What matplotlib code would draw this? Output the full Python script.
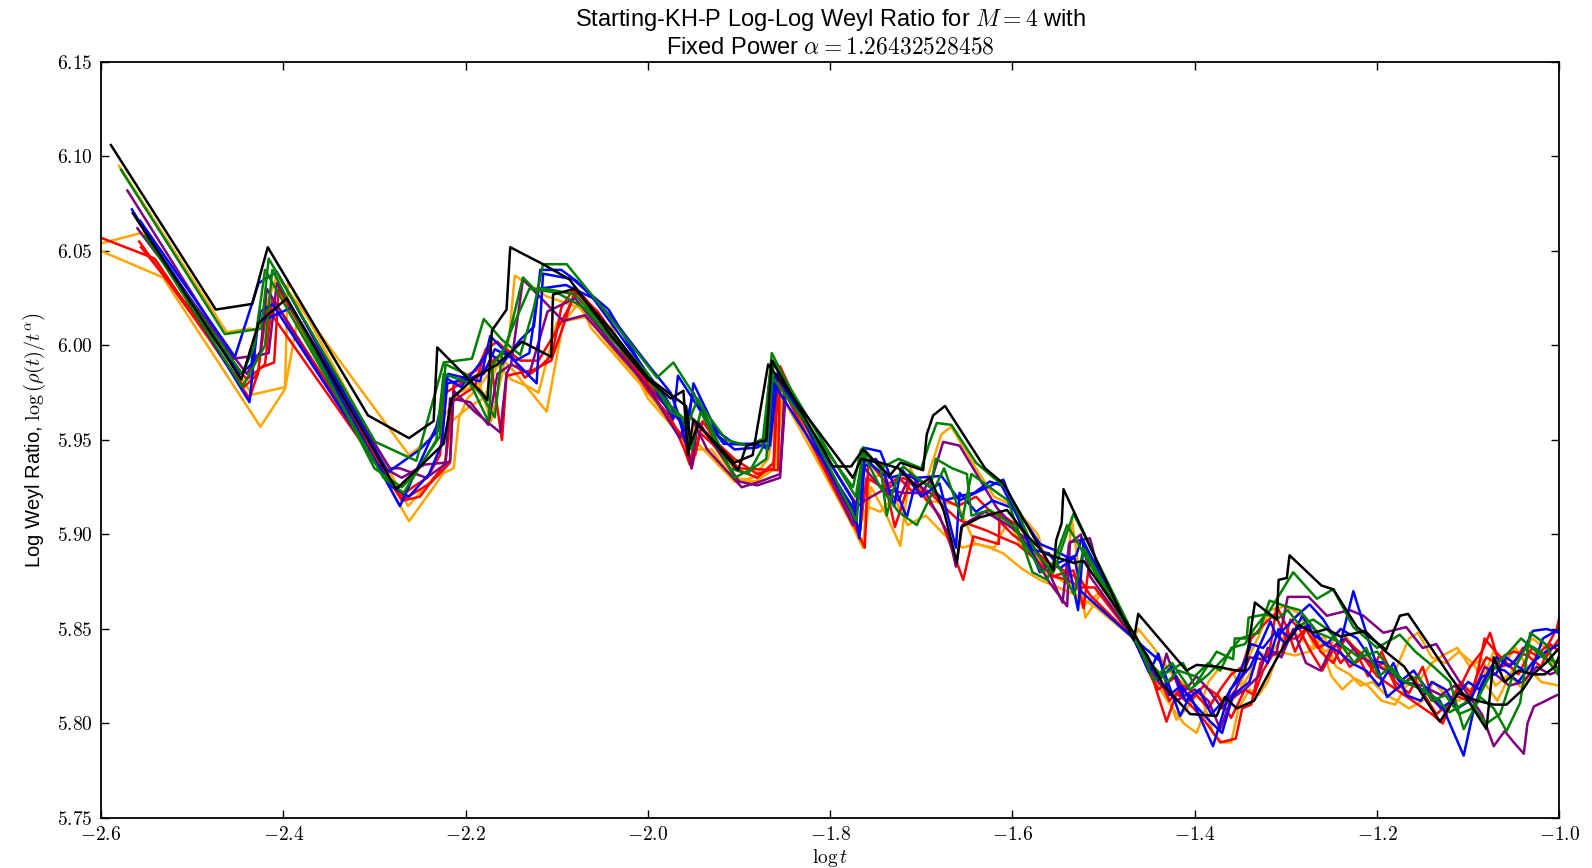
import matplotlib
matplotlib.use('Agg')
import matplotlib.pyplot as plt
from matplotlib.ticker import FuncFormatter

plt.rcParams['mathtext.fontset'] = 'cm'
plt.rcParams['font.family'] = ['Liberation Sans', 'DejaVu Sans']

# ---------------- data: (log t, log Weyl ratio) vertices ----------------
black1 = [(-2.589,6.106),(-2.474,6.019),(-2.434,6.022),(-2.417,6.052),(-2.307,5.963),(-2.262,5.951),(-2.235,5.960),(-2.231,5.999),(-2.182,5.975),(-2.176,5.971),(-2.171,6.008),(-2.155,6.019),(-2.151,6.052),(-2.115,6.043),(-2.086,6.035),(-2.040,6.005),(-2.000,5.982),(-1.975,5.972),(-1.961,5.976),(-1.956,5.942),(-1.950,5.961),(-1.901,5.934),(-1.892,5.947),(-1.870,5.950),(-1.864,5.992),(-1.797,5.936),(-1.777,5.936),(-1.764,5.945),(-1.735,5.931),(-1.723,5.938),(-1.698,5.934),(-1.694,5.953),(-1.687,5.963),(-1.674,5.968),(-1.630,5.935),(-1.610,5.927),(-1.590,5.910),(-1.570,5.893),(-1.555,5.881),(-1.552,5.897),(-1.546,5.906),(-1.544,5.924),(-1.467,5.844),(-1.462,5.858),(-1.409,5.828),(-1.398,5.831),(-1.375,5.830),(-1.354,5.828),(-1.345,5.828),(-1.334,5.864),(-1.310,5.855),(-1.308,5.876),(-1.299,5.877),(-1.296,5.889),(-1.261,5.873),(-1.248,5.871),(-1.222,5.851),(-1.190,5.839),(-1.175,5.857),(-1.166,5.858),(-1.142,5.841),(-1.120,5.825),(-1.100,5.812),(-1.080,5.797),(-1.072,5.835),(-1.060,5.822),(-1.045,5.828),(-1.029,5.826),(-1.015,5.832),(-1.000,5.840)]

black2 = [(-2.565,6.070),(-2.446,5.982),(-2.427,6.012),(-2.396,6.025),(-2.276,5.924),(-2.224,5.948),(-2.215,5.972),(-2.190,5.983),(-2.165,5.990),(-2.138,6.002),(-2.106,5.994),(-2.104,6.027),(-2.080,6.030),(-2.040,6.008),(-2.000,5.983),(-1.958,5.968),(-1.953,5.948),(-1.945,5.958),(-1.905,5.938),(-1.885,5.942),(-1.868,5.990),(-1.775,5.930),(-1.766,5.940),(-1.745,5.938),(-1.725,5.935),(-1.705,5.925),(-1.690,5.930),(-1.675,5.912),(-1.661,5.885),(-1.656,5.904),(-1.636,5.909),(-1.606,5.913),(-1.585,5.900),(-1.565,5.890),(-1.533,5.885),(-1.522,5.886),(-1.467,5.848),(-1.448,5.832),(-1.434,5.820),(-1.405,5.805),(-1.376,5.804),(-1.367,5.814),(-1.354,5.808),(-1.335,5.812),(-1.315,5.830),(-1.300,5.843),(-1.285,5.852),(-1.270,5.848),(-1.255,5.850),(-1.240,5.846),(-1.213,5.849),(-1.193,5.839),(-1.170,5.830),(-1.150,5.815),(-1.131,5.801),(-1.111,5.816),(-1.090,5.812),(-1.072,5.810),(-1.058,5.810),(-1.040,5.818),(-1.029,5.826),(-1.016,5.826),(-1.005,5.830),(-1.000,5.836)]

green1 = [(-2.578,6.093),(-2.464,6.006),(-2.424,6.009),(-2.416,6.046),(-2.299,5.949),(-2.254,5.939),(-2.224,5.991),(-2.193,5.993),(-2.180,6.014),(-2.160,6.003),(-2.140,5.995),(-2.125,6.020),(-2.115,6.043),(-2.089,6.043),(-2.045,6.017),(-1.990,5.983),(-1.972,5.991),(-1.943,5.969),(-1.914,5.950),(-1.890,5.947),(-1.872,5.951),(-1.868,5.975),(-1.864,5.996),(-1.771,5.907),(-1.764,5.946),(-1.745,5.935),(-1.725,5.940),(-1.700,5.935),(-1.690,5.950),(-1.683,5.959),(-1.667,5.958),(-1.640,5.938),(-1.606,5.924),(-1.574,5.890),(-1.555,5.880),(-1.533,5.911),(-1.467,5.847),(-1.445,5.823),(-1.413,5.832),(-1.400,5.820),(-1.376,5.838),(-1.358,5.834),(-1.356,5.845),(-1.343,5.845),(-1.341,5.856),(-1.320,5.858),(-1.292,5.880),(-1.266,5.866),(-1.248,5.871),(-1.226,5.851),(-1.200,5.840),(-1.175,5.847),(-1.158,5.838),(-1.138,5.830),(-1.120,5.822),(-1.105,5.797),(-1.087,5.814),(-1.072,5.808),(-1.058,5.796),(-1.043,5.811),(-1.032,5.848),(-1.015,5.842),(-1.000,5.827)]

green2 = [(-2.548,6.056),(-2.445,5.978),(-2.420,6.000),(-2.412,6.040),(-2.300,5.935),(-2.270,5.925),(-2.255,5.932),(-2.232,5.950),(-2.224,5.985),(-2.195,5.980),(-2.175,5.960),(-2.170,5.990),(-2.155,6.000),(-2.137,6.036),(-2.125,6.030),(-2.112,6.030),(-2.080,6.027),(-2.000,5.985),(-1.975,5.965),(-1.955,5.960),(-1.945,5.972),(-1.910,5.935),(-1.890,5.932),(-1.875,5.945),(-1.866,5.985),(-1.775,5.925),(-1.766,5.945),(-1.745,5.925),(-1.725,5.912),(-1.705,5.905),(-1.690,5.920),(-1.675,5.935),(-1.655,5.908),(-1.645,5.932),(-1.605,5.918),(-1.578,5.880),(-1.562,5.876),(-1.546,5.897),(-1.540,5.905),(-1.467,5.845),(-1.440,5.826),(-1.425,5.832),(-1.405,5.818),(-1.385,5.826),(-1.365,5.836),(-1.350,5.845),(-1.330,5.848),(-1.318,5.865),(-1.300,5.862),(-1.285,5.860),(-1.265,5.848),(-1.245,5.844),(-1.220,5.835),(-1.200,5.838),(-1.180,5.825),(-1.160,5.820),(-1.140,5.815),(-1.120,5.806),(-1.100,5.812),(-1.080,5.800),(-1.065,5.805),(-1.048,5.830),(-1.035,5.842),(-1.020,5.838),(-1.000,5.825)]

green3 = [(-2.552,6.058),(-2.445,5.985),(-2.432,5.999),(-2.420,6.040),(-2.290,5.930),(-2.268,5.922),(-2.245,5.940),(-2.228,5.952),(-2.222,5.990),(-2.200,5.985),(-2.180,5.972),(-2.168,5.962),(-2.160,5.995),(-2.150,6.008),(-2.130,6.030),(-2.100,6.028),(-2.070,6.020),(-2.000,5.982),(-1.975,5.968),(-1.962,5.962),(-1.952,5.945),(-1.942,5.965),(-1.905,5.930),(-1.885,5.935),(-1.870,5.940),(-1.862,5.992),(-1.772,5.920),(-1.764,5.943),(-1.745,5.937),(-1.738,5.910),(-1.730,5.925),(-1.720,5.936),(-1.705,5.930),(-1.690,5.925),(-1.684,5.940),(-1.666,5.935),(-1.650,5.932),(-1.645,5.910),(-1.625,5.913),(-1.600,5.905),(-1.580,5.890),(-1.568,5.880),(-1.552,5.885),(-1.546,5.880),(-1.532,5.868),(-1.522,5.893),(-1.467,5.846),(-1.445,5.830),(-1.430,5.822),(-1.418,5.828),(-1.400,5.825),(-1.385,5.832),(-1.372,5.828),(-1.360,5.840),(-1.345,5.842),(-1.335,5.850),(-1.322,5.858),(-1.310,5.855),(-1.298,5.860),(-1.285,5.852),(-1.270,5.855),(-1.255,5.850),(-1.240,5.842),(-1.225,5.832),(-1.212,5.840),(-1.198,5.825),(-1.185,5.830),(-1.170,5.822),(-1.155,5.825),(-1.140,5.812),(-1.125,5.815),(-1.110,5.805),(-1.095,5.808),(-1.080,5.822),(-1.068,5.832),(-1.055,5.838),(-1.042,5.845),(-1.030,5.840),(-1.018,5.835),(-1.000,5.832)]

blue1 = [(-2.566,6.072),(-2.437,5.970),(-2.428,6.012),(-2.391,6.020),(-2.272,5.915),(-2.232,5.957),(-2.219,5.985),(-2.184,5.981),(-2.173,6.005),(-2.122,5.980),(-2.115,6.038),(-2.082,6.035),(-2.043,6.019),(-1.972,5.961),(-1.967,5.984),(-1.943,5.966),(-1.917,5.948),(-1.866,5.947),(-1.857,5.987),(-1.767,5.902),(-1.764,5.946),(-1.745,5.944),(-1.716,5.909),(-1.705,5.930),(-1.678,5.931),(-1.658,5.918),(-1.610,5.929),(-1.570,5.880),(-1.550,5.885),(-1.530,5.889),(-1.524,5.898),(-1.467,5.845),(-1.438,5.833),(-1.416,5.804),(-1.405,5.815),(-1.380,5.788),(-1.361,5.818),(-1.339,5.830),(-1.317,5.854),(-1.310,5.846),(-1.288,5.857),(-1.274,5.863),(-1.259,5.855),(-1.241,5.841),(-1.226,5.870),(-1.210,5.845),(-1.189,5.814),(-1.170,5.822),(-1.150,5.818),(-1.131,5.812),(-1.105,5.783),(-1.095,5.805),(-1.087,5.818),(-1.069,5.835),(-1.055,5.830),(-1.040,5.838),(-1.029,5.849),(-1.014,5.850),(-1.000,5.848)]

blue2 = [(-2.557,6.066),(-2.453,5.994),(-2.427,6.033),(-2.407,6.039),(-2.285,5.933),(-2.250,5.945),(-2.230,5.955),(-2.222,5.983),(-2.205,5.978),(-2.185,5.990),(-2.175,5.997),(-2.160,5.990),(-2.140,6.003),(-2.125,6.010),(-2.118,6.040),(-2.095,6.040),(-2.078,6.034),(-2.040,6.015),(-2.000,5.990),(-1.975,5.975),(-1.960,5.955),(-1.950,5.975),(-1.930,5.955),(-1.905,5.945),(-1.880,5.946),(-1.868,5.950),(-1.860,5.985),(-1.775,5.918),(-1.768,5.898),(-1.762,5.940),(-1.740,5.931),(-1.730,5.915),(-1.722,5.935),(-1.700,5.920),(-1.680,5.927),(-1.662,5.893),(-1.658,5.922),(-1.640,5.912),(-1.622,5.918),(-1.600,5.914),(-1.585,5.906),(-1.570,5.895),(-1.555,5.892),(-1.540,5.888),(-1.528,5.860),(-1.522,5.895),(-1.467,5.845),(-1.450,5.827),(-1.440,5.837),(-1.428,5.815),(-1.415,5.820),(-1.400,5.810),(-1.385,5.802),(-1.370,5.795),(-1.358,5.815),(-1.340,5.822),(-1.330,5.838),(-1.320,5.832),(-1.308,5.850),(-1.295,5.845),(-1.282,5.857),(-1.270,5.847),(-1.255,5.842),(-1.240,5.850),(-1.222,5.845),(-1.205,5.833),(-1.190,5.832),(-1.175,5.822),(-1.160,5.828),(-1.145,5.818),(-1.130,5.808),(-1.118,5.812),(-1.100,5.822),(-1.088,5.818),(-1.075,5.830),(-1.060,5.828),(-1.045,5.822),(-1.030,5.832),(-1.015,5.838),(-1.000,5.842)]

blue3 = [(-2.562,6.068),(-2.447,5.985),(-2.435,5.990),(-2.425,6.018),(-2.412,6.022),(-2.280,5.925),(-2.262,5.920),(-2.240,5.932),(-2.226,5.948),(-2.220,5.980),(-2.198,5.982),(-2.180,5.985),(-2.168,5.998),(-2.155,5.995),(-2.145,5.992),(-2.130,5.996),(-2.120,6.030),(-2.090,6.032),(-2.060,6.025),(-2.000,5.985),(-1.980,5.972),(-1.965,5.960),(-1.958,5.948),(-1.950,5.980),(-1.925,5.955),(-1.905,5.948),(-1.880,5.948),(-1.868,5.945),(-1.862,5.980),(-1.772,5.912),(-1.765,5.935),(-1.750,5.940),(-1.735,5.930),(-1.718,5.932),(-1.700,5.928),(-1.690,5.925),(-1.675,5.918),(-1.660,5.920),(-1.642,5.922),(-1.625,5.928),(-1.612,5.926),(-1.595,5.910),(-1.578,5.892),(-1.560,5.890),(-1.548,5.882),(-1.532,5.888),(-1.525,5.870),(-1.467,5.845),(-1.452,5.836),(-1.440,5.823),(-1.425,5.830),(-1.410,5.812),(-1.395,5.818),(-1.382,5.805),(-1.368,5.812),(-1.352,5.825),(-1.338,5.842),(-1.325,5.840),(-1.312,5.848),(-1.300,5.842),(-1.288,5.850),(-1.272,5.852),(-1.258,5.842),(-1.242,5.838),(-1.228,5.832),(-1.212,5.828),(-1.198,5.820),(-1.182,5.832),(-1.168,5.815),(-1.152,5.812),(-1.140,5.822),(-1.125,5.818),(-1.112,5.808),(-1.098,5.812),(-1.085,5.825),(-1.070,5.826),(-1.058,5.835),(-1.045,5.830),(-1.032,5.826),(-1.018,5.845),(-1.000,5.850)]

purple1 = [(-2.571,6.082),(-2.455,5.993),(-2.425,5.995),(-2.416,5.996),(-2.407,6.033),(-2.283,5.935),(-2.272,5.935),(-2.243,5.930),(-2.217,5.939),(-2.213,5.976),(-2.190,5.965),(-2.162,5.954),(-2.155,5.985),(-2.150,5.990),(-2.137,6.035),(-2.093,6.013),(-2.069,6.016),(-2.000,5.978),(-1.965,5.951),(-1.955,5.965),(-1.935,5.945),(-1.897,5.925),(-1.877,5.928),(-1.855,5.932),(-1.850,5.976),(-1.770,5.915),(-1.762,5.918),(-1.740,5.924),(-1.720,5.922),(-1.700,5.922),(-1.688,5.930),(-1.676,5.949),(-1.658,5.947),(-1.617,5.914),(-1.600,5.905),(-1.580,5.892),(-1.560,5.875),(-1.540,5.862),(-1.537,5.896),(-1.515,5.898),(-1.505,5.880),(-1.467,5.845),(-1.438,5.824),(-1.431,5.837),(-1.415,5.815),(-1.398,5.825),(-1.385,5.818),(-1.370,5.808),(-1.355,5.818),(-1.340,5.835),(-1.325,5.834),(-1.310,5.838),(-1.298,5.867),(-1.275,5.867),(-1.255,5.857),(-1.230,5.860),(-1.215,5.857),(-1.193,5.848),(-1.168,5.851),(-1.150,5.840),(-1.135,5.842),(-1.120,5.830),(-1.100,5.815),(-1.085,5.805),(-1.072,5.788),(-1.060,5.796),(-1.050,5.790),(-1.039,5.784),(-1.035,5.800),(-1.028,5.809),(-1.015,5.812),(-1.003,5.815),(-1.000,5.815)]

purple2 = [(-2.560,6.062),(-2.440,5.985),(-2.425,5.997),(-2.418,6.030),(-2.300,5.938),(-2.270,5.930),(-2.245,5.937),(-2.222,5.938),(-2.217,5.972),(-2.195,5.970),(-2.175,5.958),(-2.165,5.985),(-2.150,5.990),(-2.130,5.985),(-2.110,6.018),(-2.080,6.025),(-2.000,5.978),(-1.960,5.958),(-1.952,5.935),(-1.945,5.960),(-1.900,5.928),(-1.880,5.926),(-1.855,5.930),(-1.848,5.980),(-1.775,5.905),(-1.762,5.935),(-1.745,5.925),(-1.725,5.918),(-1.712,5.932),(-1.695,5.922),(-1.670,5.900),(-1.662,5.883),(-1.655,5.905),(-1.630,5.912),(-1.605,5.905),(-1.580,5.896),(-1.560,5.880),(-1.545,5.864),(-1.538,5.895),(-1.525,5.900),(-1.515,5.878),(-1.467,5.845),(-1.440,5.822),(-1.420,5.812),(-1.400,5.818),(-1.385,5.812),(-1.372,5.797),(-1.360,5.813),(-1.345,5.818),(-1.330,5.825),(-1.320,5.840),(-1.305,5.835),(-1.292,5.850),(-1.278,5.832),(-1.262,5.828),(-1.250,5.840),(-1.235,5.845),(-1.220,5.836),(-1.205,5.832),(-1.190,5.828),(-1.170,5.822),(-1.150,5.820),(-1.130,5.815),(-1.115,5.820),(-1.098,5.812),(-1.082,5.830),(-1.070,5.826),(-1.055,5.820),(-1.040,5.822),(-1.025,5.830),(-1.010,5.826),(-1.000,5.828)]

red1 = [(-2.600,6.057),(-2.541,6.046),(-2.437,5.972),(-2.426,5.988),(-2.410,5.991),(-2.405,6.030),(-2.270,5.918),(-2.239,5.927),(-2.217,5.938),(-2.213,5.980),(-2.188,5.987),(-2.175,6.000),(-2.160,5.950),(-2.155,5.984),(-2.126,5.987),(-2.106,5.992),(-2.093,6.010),(-2.080,6.029),(-2.040,6.008),(-2.000,5.978),(-1.960,5.950),(-1.952,5.935),(-1.943,5.954),(-1.900,5.935),(-1.857,5.934),(-1.855,5.989),(-1.762,5.893),(-1.758,5.939),(-1.740,5.928),(-1.729,5.904),(-1.712,5.929),(-1.680,5.910),(-1.654,5.876),(-1.643,5.899),(-1.615,5.895),(-1.614,5.911),(-1.592,5.904),(-1.555,5.878),(-1.533,5.881),(-1.522,5.861),(-1.515,5.888),(-1.467,5.845),(-1.445,5.822),(-1.431,5.801),(-1.420,5.816),(-1.405,5.810),(-1.390,5.802),(-1.372,5.790),(-1.355,5.792),(-1.348,5.808),(-1.338,5.810),(-1.328,5.832),(-1.318,5.838),(-1.310,5.862),(-1.300,5.852),(-1.290,5.838),(-1.278,5.850),(-1.265,5.840),(-1.252,5.843),(-1.240,5.832),(-1.225,5.840),(-1.210,5.825),(-1.195,5.838),(-1.180,5.822),(-1.165,5.816),(-1.150,5.830),(-1.138,5.812),(-1.125,5.806),(-1.110,5.818),(-1.098,5.830),(-1.085,5.838),(-1.076,5.848),(-1.065,5.830),(-1.050,5.832),(-1.040,5.840),(-1.025,5.836),(-1.012,5.842),(-1.003,5.850),(-1.000,5.856)]

red2 = [(-2.556,6.052),(-2.440,5.982),(-2.420,5.990),(-2.412,6.025),(-2.268,5.918),(-2.250,5.920),(-2.222,5.938),(-2.215,5.970),(-2.200,5.975),(-2.190,5.978),(-2.178,5.998),(-2.165,6.002),(-2.150,5.995),(-2.135,5.983),(-2.120,5.988),(-2.105,5.995),(-2.095,6.020),(-2.080,6.031),(-2.060,6.020),(-2.000,5.976),(-1.975,5.962),(-1.960,5.945),(-1.954,5.937),(-1.945,5.958),(-1.905,5.940),(-1.880,5.932),(-1.862,5.935),(-1.857,5.982),(-1.775,5.905),(-1.764,5.940),(-1.745,5.938),(-1.735,5.925),(-1.720,5.930),(-1.700,5.925),(-1.690,5.922),(-1.680,5.920),(-1.660,5.915),(-1.640,5.920),(-1.620,5.910),(-1.600,5.900),(-1.580,5.893),(-1.560,5.885),(-1.540,5.880),(-1.525,5.876),(-1.515,5.868),(-1.467,5.845),(-1.440,5.818),(-1.420,5.825),(-1.405,5.812),(-1.390,5.820),(-1.375,5.815),(-1.360,5.803),(-1.345,5.818),(-1.335,5.815),(-1.325,5.828),(-1.315,5.836),(-1.305,5.838),(-1.295,5.855),(-1.285,5.850),(-1.275,5.840),(-1.260,5.828),(-1.245,5.842),(-1.230,5.830),(-1.215,5.835),(-1.200,5.825),(-1.185,5.820),(-1.170,5.815),(-1.155,5.810),(-1.140,5.805),(-1.128,5.800),(-1.115,5.815),(-1.100,5.812),(-1.090,5.826),(-1.080,5.835),(-1.070,5.832),(-1.060,5.836),(-1.050,5.838),(-1.035,5.836),(-1.020,5.830),(-1.010,5.842),(-1.000,5.838)]

red3 = [(-2.558,6.055),(-2.443,5.978),(-2.428,5.985),(-2.418,6.020),(-2.272,5.920),(-2.258,5.925),(-2.242,5.930),(-2.228,5.942),(-2.222,5.975),(-2.205,5.980),(-2.185,5.985),(-2.170,5.992),(-2.155,5.998),(-2.140,5.992),(-2.120,5.992),(-2.100,6.008),(-2.078,6.028),(-2.055,6.018),(-2.000,5.980),(-1.975,5.965),(-1.960,5.958),(-1.948,5.942),(-1.940,5.960),(-1.905,5.935),(-1.880,5.930),(-1.862,5.938),(-1.858,5.985),(-1.775,5.912),(-1.768,5.900),(-1.760,5.930),(-1.742,5.925),(-1.725,5.930),(-1.708,5.922),(-1.690,5.922),(-1.676,5.915),(-1.660,5.908),(-1.645,5.905),(-1.628,5.902),(-1.610,5.898),(-1.595,5.895),(-1.575,5.887),(-1.556,5.878),(-1.540,5.876),(-1.525,5.872),(-1.510,5.872),(-1.467,5.845),(-1.452,5.830),(-1.440,5.826),(-1.428,5.812),(-1.412,5.820),(-1.398,5.815),(-1.385,5.808),(-1.372,5.818),(-1.360,5.826),(-1.348,5.830),(-1.338,5.845),(-1.325,5.852),(-1.312,5.858),(-1.300,5.845),(-1.288,5.845),(-1.275,5.852),(-1.262,5.838),(-1.248,5.832),(-1.235,5.845),(-1.220,5.838),(-1.205,5.830),(-1.192,5.832),(-1.178,5.818),(-1.162,5.825),(-1.148,5.815),(-1.135,5.805),(-1.122,5.810),(-1.108,5.822),(-1.095,5.815),(-1.082,5.845),(-1.070,5.838),(-1.058,5.832),(-1.045,5.826),(-1.030,5.840),(-1.015,5.835),(-1.000,5.845)]

orange1 = [(-2.580,6.095),(-2.462,6.007),(-2.437,6.009),(-2.428,6.008),(-2.407,6.037),(-2.262,5.942),(-2.240,5.950),(-2.228,5.960),(-2.220,5.965),(-2.208,5.975),(-2.185,5.980),(-2.172,5.960),(-2.160,5.985),(-2.152,6.005),(-2.146,6.037),(-2.111,6.026),(-2.075,6.020),(-2.000,5.975),(-1.967,5.955),(-1.955,5.950),(-1.945,5.960),(-1.905,5.930),(-1.880,5.928),(-1.862,5.938),(-1.851,5.979),(-1.764,5.894),(-1.757,5.930),(-1.740,5.932),(-1.720,5.928),(-1.705,5.925),(-1.694,5.929),(-1.678,5.953),(-1.667,5.957),(-1.640,5.935),(-1.620,5.920),(-1.603,5.916),(-1.590,5.910),(-1.572,5.900),(-1.560,5.880),(-1.541,5.874),(-1.535,5.909),(-1.520,5.856),(-1.500,5.871),(-1.467,5.845),(-1.462,5.850),(-1.445,5.840),(-1.425,5.826),(-1.405,5.818),(-1.392,5.812),(-1.385,5.822),(-1.372,5.830),(-1.360,5.828),(-1.350,5.820),(-1.340,5.836),(-1.330,5.846),(-1.318,5.860),(-1.300,5.862),(-1.285,5.858),(-1.270,5.842),(-1.255,5.838),(-1.240,5.850),(-1.225,5.840),(-1.210,5.835),(-1.195,5.830),(-1.180,5.828),(-1.165,5.845),(-1.155,5.848),(-1.140,5.835),(-1.125,5.832),(-1.110,5.838),(-1.095,5.832),(-1.080,5.820),(-1.068,5.812),(-1.055,5.825),(-1.040,5.838),(-1.030,5.845),(-1.015,5.840),(-1.000,5.825)]

orange2 = [(-2.600,6.054),(-2.552,6.060),(-2.434,5.974),(-2.398,5.978),(-2.395,6.033),(-2.390,6.030),(-2.263,5.915),(-2.235,5.930),(-2.213,5.935),(-2.207,5.962),(-2.198,5.972),(-2.185,5.978),(-2.162,5.994),(-2.148,5.987),(-2.111,5.965),(-2.093,6.012),(-2.075,6.023),(-2.062,6.009),(-2.000,5.975),(-1.975,5.960),(-1.955,5.945),(-1.930,5.945),(-1.905,5.928),(-1.882,5.928),(-1.860,5.935),(-1.851,5.979),(-1.764,5.893),(-1.755,5.925),(-1.738,5.910),(-1.723,5.894),(-1.712,5.935),(-1.695,5.918),(-1.680,5.917),(-1.660,5.916),(-1.641,5.895),(-1.620,5.893),(-1.604,5.908),(-1.590,5.893),(-1.575,5.890),(-1.560,5.878),(-1.540,5.876),(-1.523,5.862),(-1.500,5.871),(-1.467,5.845),(-1.445,5.822),(-1.430,5.815),(-1.420,5.802),(-1.405,5.810),(-1.395,5.818),(-1.380,5.795),(-1.370,5.790),(-1.360,5.790),(-1.352,5.808),(-1.340,5.818),(-1.330,5.815),(-1.320,5.822),(-1.308,5.838),(-1.290,5.836),(-1.275,5.838),(-1.262,5.842),(-1.250,5.825),(-1.238,5.818),(-1.225,5.824),(-1.210,5.820),(-1.195,5.812),(-1.180,5.810),(-1.168,5.820),(-1.155,5.822),(-1.140,5.832),(-1.128,5.836),(-1.112,5.840),(-1.098,5.830),(-1.085,5.834),(-1.070,5.820),(-1.055,5.826),(-1.040,5.818),(-1.025,5.838),(-1.010,5.832),(-1.000,5.826)]

orange3 = [(-2.600,6.050),(-2.532,6.036),(-2.425,5.957),(-2.398,5.977),(-2.385,6.012),(-2.262,5.907),(-2.235,5.925),(-2.225,5.932),(-2.215,5.960),(-2.195,5.968),(-2.180,5.972),(-2.165,5.990),(-2.150,5.982),(-2.130,5.978),(-2.120,5.975),(-2.100,6.012),(-2.070,6.015),(-2.040,6.010),(-2.000,5.972),(-1.960,5.950),(-1.945,5.948),(-1.905,5.928),(-1.885,5.930),(-1.868,5.940),(-1.855,5.975),(-1.770,5.900),(-1.760,5.915),(-1.745,5.912),(-1.730,5.920),(-1.715,5.905),(-1.695,5.910),(-1.675,5.900),(-1.655,5.893),(-1.640,5.895),(-1.625,5.893),(-1.610,5.890),(-1.590,5.882),(-1.570,5.876),(-1.550,5.872),(-1.530,5.868),(-1.510,5.862),(-1.467,5.845),(-1.450,5.828),(-1.430,5.812),(-1.412,5.800),(-1.398,5.795),(-1.388,5.808),(-1.375,5.815),(-1.362,5.810),(-1.350,5.818),(-1.340,5.826),(-1.330,5.838),(-1.320,5.835),(-1.305,5.845),(-1.290,5.848),(-1.272,5.840),(-1.258,5.846),(-1.245,5.830),(-1.230,5.826),(-1.218,5.820),(-1.205,5.822),(-1.190,5.815),(-1.178,5.812),(-1.165,5.808),(-1.150,5.812),(-1.138,5.822),(-1.125,5.815),(-1.110,5.812),(-1.098,5.818),(-1.085,5.822),(-1.072,5.838),(-1.060,5.832),(-1.048,5.840),(-1.035,5.830),(-1.020,5.822),(-1.000,5.820)]

series = [(orange3, 'orange'), (orange2, 'orange'), (orange1, 'orange'),
          (red3, 'red'), (red2, 'red'), (red1, 'red'),
          (purple2, 'purple'), (purple1, 'purple'),
          (blue3, 'blue'), (blue2, 'blue'), (blue1, 'blue'),
          (green3, 'green'), (green2, 'green'), (green1, 'green'),
          (black2, 'black'), (black1, 'black')]

x_ticks = [-2.6, -2.4, -2.2, -2.0, -1.8, -1.6, -1.4, -1.2, -1.0]
y_ticks = [5.75, 5.80, 5.85, 5.90, 5.95, 6.00, 6.05, 6.10, 6.15]

# ---------------- figure ----------------
fig = plt.figure(figsize=(15.92, 8.68), dpi=100)
ax = fig.add_axes([0.0634, 0.0576, 0.9161, 0.8710])

for pts, col in series:
    xs = [p[0] for p in pts]
    ys = [p[1] for p in pts]
    ax.plot(xs, ys, color=col, lw=1.8)

ax.set_xlim(-2.6, -1.0)
ax.set_ylim(5.75, 6.15)
ax.set_xticks(x_ticks)
ax.set_yticks(y_ticks)
ax.xaxis.set_major_formatter(FuncFormatter(lambda v, p: f'${v:.1f}$'))
ax.yaxis.set_major_formatter(FuncFormatter(lambda v, p: f'${v:.2f}$'))
ax.tick_params(direction='in', top=True, right=True, length=6, width=1,
               labelsize=14, pad=6)
for s in ax.spines.values():
    s.set_linewidth(1.3)

ax.set_title('Starting-KH-P Log-Log Weyl Ratio for $M = 4$ with\n'
             'Fixed Power $\\alpha = 1.26432528458$', fontsize=17, pad=6)
ax.set_ylabel(r'Log Weyl Ratio, $\log\left(\rho(t)/t^{\alpha}\right)$', fontsize=14.5,
              labelpad=6)
ax.set_xlabel(r'$\log t$', fontsize=14, labelpad=2)

fig.savefig('out.png', dpi=100)
